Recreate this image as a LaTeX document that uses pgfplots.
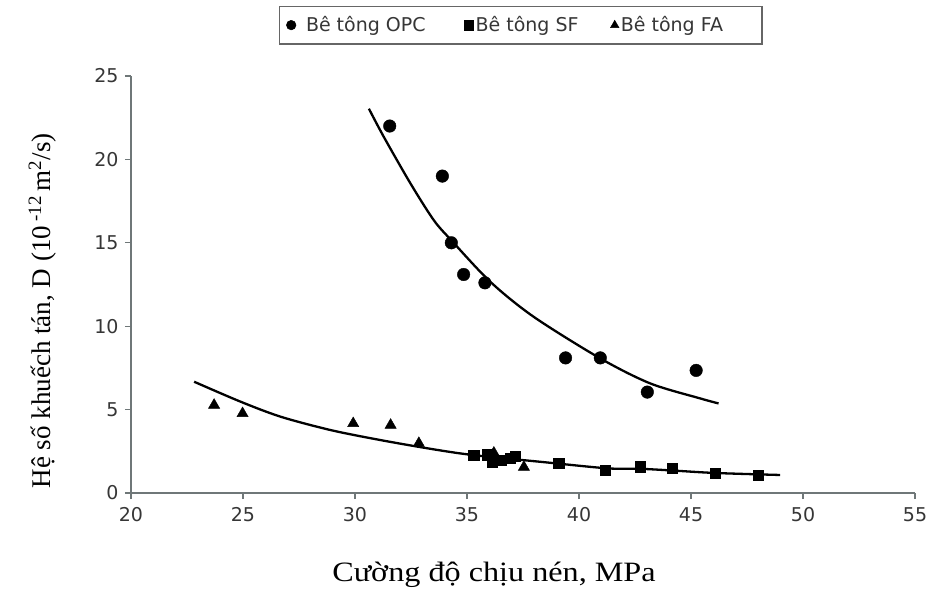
\documentclass[border=0pt]{standalone}
\usepackage{pgfplots}
\pgfplotsset{compat=1.18}
\usepackage{fontspec}
\setmainfont{Liberation Serif}
\newfontfamily\tickfont{DejaVu Sans}
\newfontfamily\xlabfont{Liberation Serif}[FakeStretch=1.15]
\definecolor{axgray}{HTML}{6F7778}
\definecolor{txtgray}{HTML}{363636}

\begin{document}
\begin{tikzpicture}
\useasboundingbox (0,0) rectangle (930bp,594bp);
\begin{axis}[
  at={(131bp,101bp)}, anchor=south west,
  scale only axis, width=784bp, height=417bp,
  xmin=20, xmax=55, ymin=0, ymax=25,
  xtick={20,25,...,55}, ytick={0,5,...,25},
  axis x line=bottom, axis y line=left,
  axis line style={-, draw=axgray, line width=1.5bp},
  tick style={draw=axgray, line width=1.2bp},
  tick align=outside, major tick length=6bp,
  ticklabel style={font=\tickfont\fontsize{19bp}{22bp}\selectfont, text=txtgray},
  /pgf/number format/assume math mode=true,
  xticklabel style={yshift=-5bp},
  yticklabel style={xshift=-3bp},
  xlabel={Cường độ chịu nén, MPa},
  xlabel style={at={(rel axis cs:0.463,-0.2134)}, anchor=base, font=\xlabfont\fontsize{28bp}{32bp}\selectfont},
  ylabel={Hệ số khuếch tán, D (10\,\textsuperscript{-12}\,m\textsuperscript{2}/s)},
  ylabel style={at={(rel axis cs:-0.1033,0.437)}, anchor=base, font=\fontsize{27bp}{31bp}\selectfont},
  legend style={at={(rel axis cs:0.497,1.122)}, anchor=center, legend columns=3,
    draw=gray!80!black, line width=1.5bp, font=\tickfont\fontsize{19bp}{22bp}\selectfont, text=txtgray,
    inner xsep=7bp, inner ysep=8.5bp},
  legend image code/.code={\draw[mark repeat=2,mark phase=2,mark size=4.8bp,line width=0.5bp] plot coordinates {(0bp,0bp)(5bp,0bp)(12bp,0bp)};},
]
\addplot[only marks, mark=*, mark size=6.3bp, black] coordinates {
(31.55,22.0) (33.9,19.0) (34.3,15.0) (34.85,13.1) (35.8,12.6)
(39.4,8.1) (40.95,8.1) (43.05,6.05) (45.23,7.35)
};
\addlegendentry{\makebox[164bp][l]{\hspace{8bp}Bê tông OPC}}
\addplot[only marks, mark=square*, mark size=5.2bp, black] coordinates {
(35.3,2.27) (35.9,2.3) (36.12,1.87) (36.5,1.97) (36.94,2.1) (37.16,2.2)
(39.1,1.78) (41.17,1.35) (42.74,1.58) (44.15,1.48) (46.08,1.18) (48.01,1.08)
};
\addlegendentry{\makebox[133bp][l]{Bê tông SF}}
\addplot[only marks, mark=triangle*, mark size=6.5bp, black] coordinates {
(23.71,5.27) (24.98,4.77) (29.92,4.17) (31.59,4.07) (32.85,2.98) (36.2,2.4) (37.54,1.55)
};
\addlegendentry{\makebox[132bp][l]{Bê tông FA}}
\addplot[smooth, black, line width=2.3bp, forget plot] coordinates {
(30.62,23.04) (31.29,21.34) (32.48,18.55) (33.52,16.35) (34.3,15.15) (36.05,12.65)
(37.98,10.56) (40.95,8.07) (43.18,6.57) (45.41,5.67) (46.23,5.37)
};
\addplot[smooth, black, line width=2.3bp, forget plot] coordinates {
(22.82,6.67) (24.9,5.47) (26.69,4.57) (28.92,3.77) (31.15,3.17) (33.5,2.62)
(35.3,2.27) (38.28,1.87) (41.25,1.48) (42.74,1.45) (44.15,1.35) (46.08,1.2) (48.98,1.08)
};
\end{axis}
\end{tikzpicture}
\end{document}
